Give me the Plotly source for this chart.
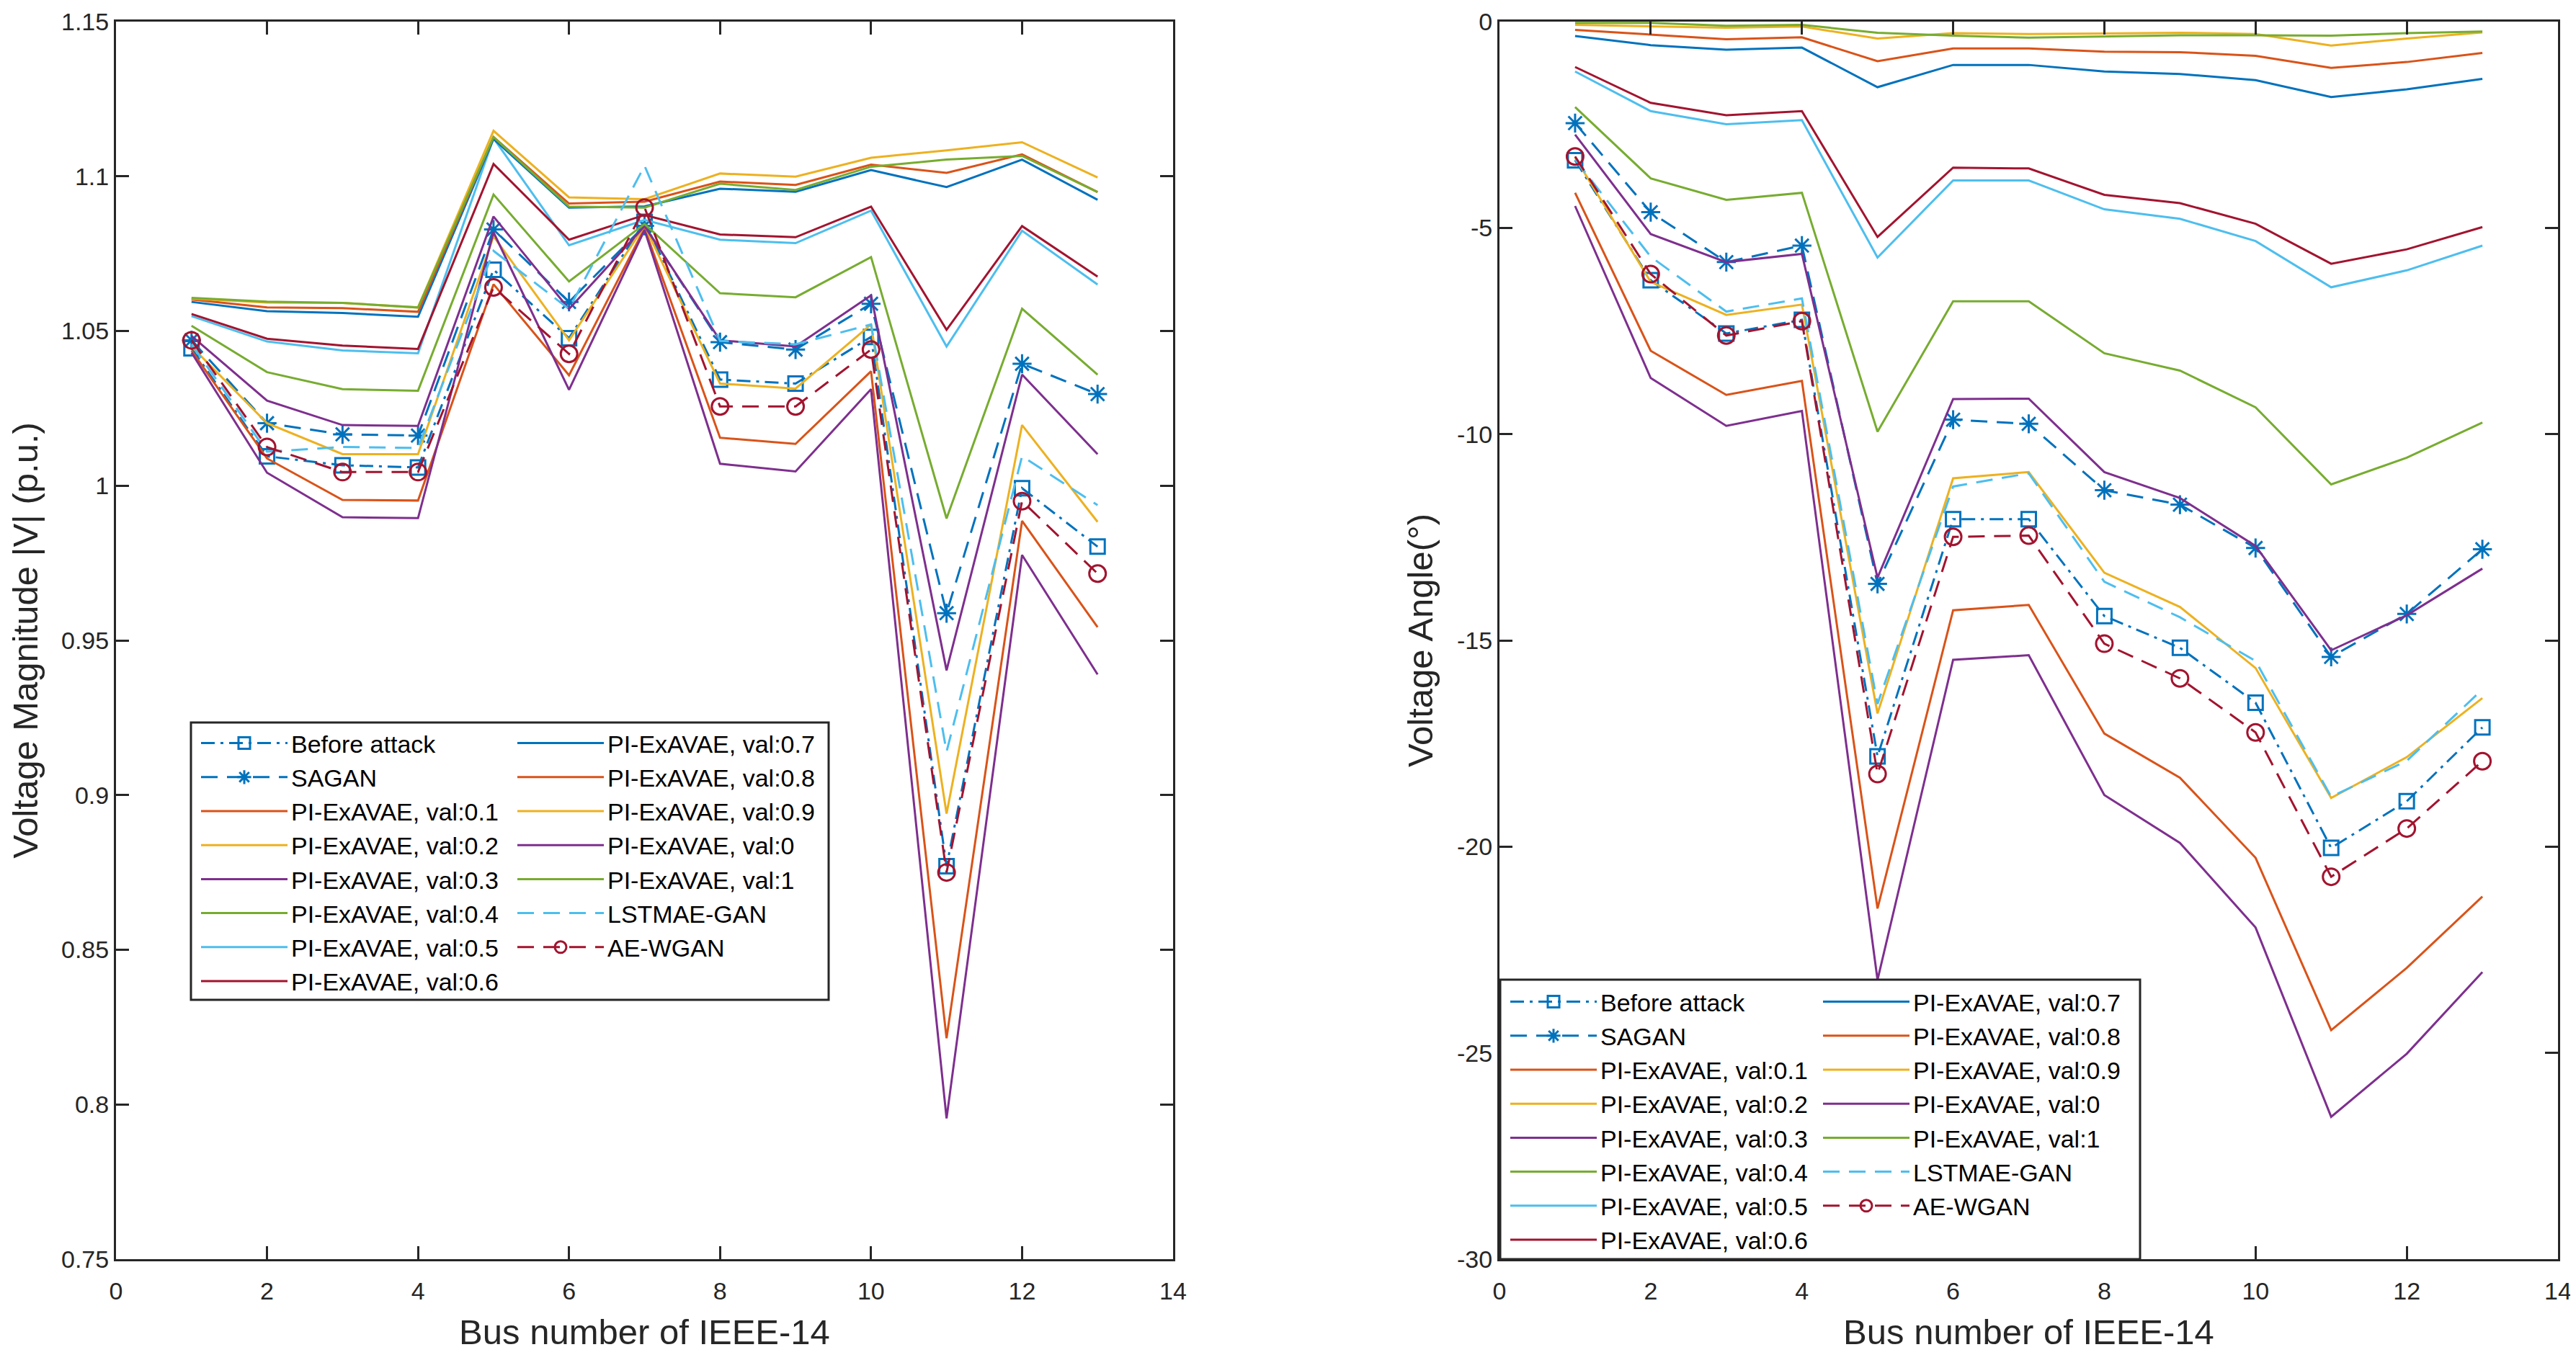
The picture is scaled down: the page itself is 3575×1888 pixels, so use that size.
import plotly.graph_objects as go

# bus index (x values)
bus = [1, 2, 3, 4, 5, 6, 7, 8, 9, 10, 11, 12, 13]

# voltage magnitude |V| (p.u.)
before_v = [1.0444, 1.0095, 1.0066, 1.0059, 1.0698, 1.0477, 1.0853, 1.0343, 1.0330, 1.0481, 0.8770, 0.9992, 0.9803]
sagan_v = [1.0470, 1.0202, 1.0166, 1.0162, 1.0828, 1.0594, 1.0840, 1.0464, 1.0440, 1.0588, 0.9588, 1.0394, 1.0296]
v01 = [1.0437, 1.0088, 0.9954, 0.9952, 1.0651, 1.0357, 1.0832, 1.0155, 1.0135, 1.0370, 0.8214, 0.9886, 0.9543]
v02 = [1.0450, 1.0202, 1.0102, 1.0102, 1.0806, 1.0470, 1.0840, 1.0330, 1.0314, 1.0521, 0.8940, 1.0196, 0.9883]
v03 = [1.0484, 1.0275, 1.0196, 1.0193, 1.0870, 1.0571, 1.0839, 1.0470, 1.0450, 1.0615, 0.9403, 1.0359, 1.0102]
v04 = [1.0517, 1.0367, 1.0312, 1.0307, 1.0941, 1.0660, 1.0846, 1.0622, 1.0609, 1.0739, 0.9894, 1.0572, 1.0359]
v05 = [1.0548, 1.0466, 1.0437, 1.0428, 1.1123, 1.0777, 1.0859, 1.0795, 1.0784, 1.0889, 1.0450, 1.0824, 1.0650]
v06 = [1.0555, 1.0475, 1.0453, 1.0442, 1.1040, 1.0795, 1.0875, 1.0812, 1.0803, 1.0902, 1.0504, 1.0839, 1.0676]
v07 = [1.0594, 1.0564, 1.0558, 1.0546, 1.1121, 1.0899, 1.0903, 1.0960, 1.0950, 1.1020, 1.0965, 1.1054, 1.0924]
v08 = [1.0602, 1.0576, 1.0574, 1.0562, 1.1127, 1.0912, 1.0918, 1.0983, 1.0972, 1.1038, 1.1011, 1.1071, 1.0949]
v09 = [1.0605, 1.0592, 1.0591, 1.0576, 1.1147, 1.0932, 1.0926, 1.1009, 1.0999, 1.1060, 1.1084, 1.1110, 1.0996]
v00 = [1.0430, 1.0042, 0.9898, 0.9895, 1.0819, 1.0310, 1.0826, 1.0071, 1.0046, 1.0312, 0.7955, 0.9776, 0.9390]
v10 = [1.0607, 1.0595, 1.0591, 1.0576, 1.1127, 1.0902, 1.0899, 1.0976, 1.0956, 1.1031, 1.1054, 1.1066, 1.0949]
lstm_v = [1.0457, 1.0110, 1.0125, 1.0122, 1.0759, 1.0571, 1.1034, 1.0468, 1.0457, 1.0521, 0.9140, 1.0095, 0.9937]
aewgan_v = [1.0470, 1.0125, 1.0044, 1.0044, 1.0641, 1.0426, 1.0899, 1.0256, 1.0256, 1.0440, 0.8750, 0.9950, 0.9716]

# voltage angle (deg)
before_a = [-3.36, -6.27, -7.56, -7.23, -17.81, -12.06, -12.06, -14.41, -15.18, -16.51, -20.03, -18.90, -17.11]
sagan_a = [-2.46, -4.62, -5.83, -5.43, -13.63, -9.65, -9.75, -11.36, -11.71, -12.76, -15.40, -14.36, -12.79]
a01 = [-4.15, -7.98, -9.05, -8.71, -21.50, -14.27, -14.14, -17.26, -18.33, -20.27, -24.45, -22.94, -21.21]
a02 = [-3.29, -6.31, -7.11, -6.86, -16.77, -11.07, -10.92, -13.36, -14.19, -15.67, -18.82, -17.83, -16.40]
a03 = [-2.74, -5.15, -5.83, -5.63, -13.48, -9.15, -9.14, -10.92, -11.55, -12.71, -15.24, -14.39, -13.26]
a04 = [-2.07, -3.80, -4.32, -4.15, -9.94, -6.78, -6.78, -8.04, -8.46, -9.35, -11.22, -10.57, -9.72]
a05 = [-1.21, -2.17, -2.49, -2.39, -5.72, -3.85, -3.85, -4.55, -4.78, -5.32, -6.44, -6.03, -5.43]
a06 = [-1.10, -1.97, -2.27, -2.17, -5.22, -3.54, -3.56, -4.20, -4.40, -4.90, -5.87, -5.52, -4.98]
a07 = [-0.35, -0.57, -0.68, -0.63, -1.59, -1.05, -1.05, -1.21, -1.27, -1.42, -1.83, -1.64, -1.39]
a08 = [-0.20, -0.31, -0.43, -0.38, -0.96, -0.65, -0.65, -0.73, -0.74, -0.83, -1.12, -0.98, -0.76]
a09 = [-0.08, -0.11, -0.15, -0.12, -0.41, -0.28, -0.30, -0.29, -0.27, -0.30, -0.58, -0.41, -0.26]
a00 = [-4.47, -8.64, -9.80, -9.44, -23.23, -15.47, -15.36, -18.75, -19.91, -21.96, -26.55, -25.02, -23.04]
a10 = [-0.03, -0.03, -0.10, -0.08, -0.27, -0.34, -0.39, -0.36, -0.33, -0.33, -0.34, -0.28, -0.24]
lstm_a = [-3.34, -5.70, -7.03, -6.71, -16.54, -11.27, -10.95, -13.58, -14.44, -15.50, -18.79, -17.92, -16.19]
aewgan_a = [-3.27, -6.12, -7.61, -7.26, -18.24, -12.49, -12.46, -15.08, -15.92, -17.23, -20.73, -19.56, -17.93]

names = ['Before attack', 'SAGAN',
         'PI-ExAVAE, val:0.1', 'PI-ExAVAE, val:0.2', 'PI-ExAVAE, val:0.3',
         'PI-ExAVAE, val:0.4', 'PI-ExAVAE, val:0.5', 'PI-ExAVAE, val:0.6',
         'PI-ExAVAE, val:0.7', 'PI-ExAVAE, val:0.8', 'PI-ExAVAE, val:0.9',
         'PI-ExAVAE, val:0', 'PI-ExAVAE, val:1', 'LSTMAE-GAN', 'AE-WGAN']

x_ticks = [0, 2, 4, 6, 8, 10, 12, 14]
v_ticks = [0.75, 0.8, 0.85, 0.9, 0.95, 1.0, 1.05, 1.1, 1.15]
v_ticktext = ['0.75', '0.8', '0.85', '0.9', '0.95', '1', '1.05', '1.1', '1.15']
a_ticks = [-30, -25, -20, -15, -10, -5, 0]
a_ticktext = ['-30', '-25', '-20', '-15', '-10', '-5', '0']

mag_series = [before_v, sagan_v, v01, v02, v03, v04, v05, v06, v07, v08, v09, v00, v10, lstm_v, aewgan_v]
ang_series = [before_a, sagan_a, a01, a02, a03, a04, a05, a06, a07, a08, a09, a00, a10, lstm_a, aewgan_a]

# matlab default colour order
c = ['#0072BD', '#D95319', '#EDB120', '#7E2F8E', '#77AC30', '#4DBEEE', '#A2142F']
colors = [c[0], c[0], c[1], c[2], c[3], c[4], c[5], c[6],
          c[0], c[1], c[2], c[3], c[4], c[5], c[6]]

DASH = '23px,13px'
DASHDOT = '19px,8px,4px,8px'
styles = [dict(dash=DASHDOT, symbol='square-open', size=20),
          dict(dash=DASH, symbol='asterisk-open', size=22)] + \
         [dict(dash='solid', symbol=None, size=0)] * 11 + \
         [dict(dash=DASH, symbol=None, size=0),
          dict(dash=DASH, symbol='circle-open', size=23)]

FONT = 'Liberation Sans, Arial, Helvetica, sans-serif'
AX = '#262626'

fig = go.Figure()

for sub, data in ((1, mag_series), (2, ang_series)):
    for i, (nm, y) in enumerate(zip(names, data)):
        st = styles[i]
        leg = 'legend' if sub == 1 else 'legend3'
        if i >= 8:
            leg = 'legend2' if sub == 1 else 'legend4'
        tr = go.Scatter(
            x=bus, y=y, name=nm,
            mode='lines+markers' if st['symbol'] else 'lines',
            line=dict(color=colors[i], width=3, dash=st['dash']),
            xaxis='x' if sub == 1 else 'x2',
            yaxis='y' if sub == 1 else 'y2',
            legend=leg,
        )
        if st['symbol']:
            tr.marker = dict(symbol=st['symbol'], size=st['size'], color=colors[i],
                             line=dict(color=colors[i], width=3))
        fig.add_trace(tr)

axis_common = dict(
    showline=True, mirror='ticks', linecolor=AX, linewidth=3,
    ticks='inside', ticklen=18, tickwidth=3, tickcolor=AX,
    showgrid=False, zeroline=False, automargin=False,
    ticklabeloverflow='allow',
    tickfont=dict(family=FONT, size=34, color=AX),
)
title_font = dict(family=FONT, size=49, color=AX)

# the page body adds an 8px margin, so the figure is shrunk and shifted
OFF = 8
W, H = 3575 - OFF, 1888 - 2 * OFF
top, bot = 30 - OFF, 1888 - OFF - 1748
ph = 1748 - 30


def px(pix):
    # page column -> paper x
    return (pix - OFF) / W


def py(pix):
    # page row -> paper y
    return (1748 - pix) / ph


leg_common = dict(font=dict(family=FONT, size=34, color='#000000'),
                  bgcolor='rgba(0,0,0,0)', borderwidth=0, itemwidth=120,
                  tracegroupgap=0, xanchor='left', yanchor='top',
                  traceorder='normal')

fig.update_layout(
    width=W, height=H,
    margin=dict(l=0, r=0, t=top, b=bot, autoexpand=False),
    paper_bgcolor='white', plot_bgcolor='white',
    xaxis=dict(domain=[px(161), px(1628)], range=[0, 14], tickvals=x_ticks,
               ticklabelstandoff=12,
               title=dict(text='Bus number of IEEE-14', font=title_font, standoff=22),
               anchor='y', **axis_common),
    yaxis=dict(domain=[0, 1], range=[0.75, 1.15], tickvals=v_ticks, ticktext=v_ticktext,
               title=dict(text='Voltage Magnitude |V| (p.u.)', font=title_font, standoff=18),
               anchor='x', **axis_common),
    xaxis2=dict(domain=[px(2081), px(3550)], range=[0, 14], tickvals=x_ticks,
                ticklabelstandoff=12,
                title=dict(text='Bus number of IEEE-14', font=title_font, standoff=22),
                anchor='y2', **axis_common),
    yaxis2=dict(domain=[0, 1], range=[-30, 0], tickvals=a_ticks, ticktext=a_ticktext,
                title=dict(text='Voltage Angle(°)', font=title_font, standoff=18),
                anchor='x2', **axis_common),
    legend=dict(x=px(274), y=py(1003), **leg_common),
    legend2=dict(x=px(713), y=py(1003), **leg_common),
    legend3=dict(x=px(2091), y=py(1362), **leg_common),
    legend4=dict(x=px(2525), y=py(1362), **leg_common),
    showlegend=True,
    shapes=[
        dict(type='rect', xref='paper', yref='paper', layer='above',
             x0=px(265), x1=px(1150), y0=py(1388), y1=py(1003),
             line=dict(color=AX, width=3), fillcolor='white'),
        dict(type='rect', xref='paper', yref='paper', layer='above',
             x0=px(2082), x1=px(2970), y0=py(1748), y1=py(1360),
             line=dict(color=AX, width=3), fillcolor='white'),
    ],
)

fig.write_html("out.html")
